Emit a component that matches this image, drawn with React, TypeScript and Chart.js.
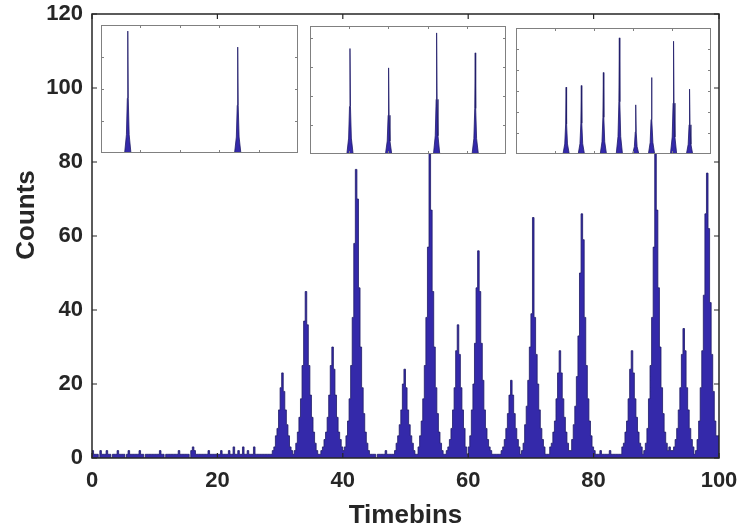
import React, { useEffect, useRef } from "react";
import { Chart, registerables } from "chart.js";

Chart.register(...registerables);

// ---------- main histogram data (bin width 0.25 timebins) ----------
const binWidth = 0.25;
const counts00to10 = [1,2,1,1,1,0,2,1,1,1, 2,1,1,0,1,1,1,2,1,1, 1,1,0,1,2,1,1,1,1,1, 1,2,1,1,0,1,1,1,1,1];
const counts10to20 = [1,1,1,1,2,1,1,0,1,1, 1,1,1,1,1,1,2,1,1,1, 1,1,1,0,2,3,2,1,1,1, 1,1,1,1,1,2,1,1,1,1];
const counts20to30 = [1,1,1,2,1,1,1,1,2,1, 1,3,1,1,2,1,1,3,1,1, 2,1,1,1,3,1,1,1,1,1, 1,1,1,1,1,1,2,3,6,8];
const counts30to40 = [13,19,23,18,13,9,6,3,2,1, 2,4,7,11,16,25,37,45,36,25, 17,11,7,4,2,1,1,2,3,5, 7,11,17,25,30,24,17,11,7,5];
const counts40to50 = [3,2,3,6,10,16,25,38,58,78, 70,46,30,19,12,7,4,2,1,1, 1,1,0,1,1,1,1,1,2,1, 1,1,1,1,2,4,6,9,13,20];
const counts50to60 = [24,19,13,9,6,4,2,1,1,3, 6,10,16,25,38,57,88,67,45,30, 19,12,7,4,2,1,1,2,3,5, 8,13,19,29,36,28,19,13,8,3];
const counts60to70 = [1,3,6,13,20,31,46,56,45,31, 21,13,8,5,3,2,1,1,1,1, 1,1,2,3,5,8,12,17,21,17, 12,8,5,3,1,2,4,9,14,21];
const counts70to80 = [30,39,65,38,28,20,13,8,5,3, 1,1,1,3,4,7,10,16,23,29, 23,16,11,7,4,2,2,5,9,14, 22,33,50,66,59,38,25,16,10,6];
const counts80to90 = [3,2,1,1,1,2,1,1,1,1, 1,2,1,1,1,1,1,1,1,3, 4,7,10,16,24,29,23,16,11,7, 4,3,1,2,4,8,16,25,38,57];
const counts90to100 = [88,67,46,30,19,12,7,4,2,3, 2,2,3,5,8,13,19,28,35,29, 19,13,8,5,3,1,2,5,10,19, 29,44,66,77,62,42,28,18,10,6];

const xTicks = [0, 20, 40, 60, 80, 100];
const yTicks = [0, 20, 40, 60, 80, 100, 120];
const xTitle = "Timebins";
const yTitle = "Counts";

// ---------- inset data ----------
const inset1X = [0, 0.60,0.645,0.668,0.68,0.692,0.715,0.76, 3.39,3.435,3.458,3.47,3.482,3.505,3.55, 5];
const inset1Y = [0, 0,0.57,1.71,3.81,1.71,0.57,0, 0,0.50,1.49,3.31,1.49,0.50,0, 0];
const inset1YMax = 4;
const inset1YTicks = [1, 2, 3];

const inset2X = [0, 0.94,0.985,1.008,1.02,1.032,1.055,1.10, 1.925,1.97,1.993,2.005,2.017,2.04,2.085,
  3.15,3.195,3.218,3.23,3.242,3.265,3.31, 4.135,4.18,4.203,4.215,4.227,4.25,4.295, 5];
const inset2Y = [0, 0,0.55,1.64,3.65,1.64,0.55,0, 0,0.45,1.34,2.98,1.34,0.45,0,
  0,0.63,1.89,4.19,1.89,0.63,0, 0,0.53,1.58,3.50,1.58,0.53,0, 0];
const inset2YMax = 4.43;
const inset2YTicks = [1, 2, 3, 4];

const inset3X = [0, 1.205,1.25,1.273,1.285,1.297,1.32,1.365, 1.595,1.64,1.663,1.675,1.687,1.71,1.755,
  2.16,2.205,2.228,2.24,2.252,2.275,2.32, 2.57,2.615,2.638,2.65,2.662,2.685,2.73,
  2.99,3.035,3.058,3.07,3.082,3.105,3.15, 3.395,3.44,3.463,3.475,3.487,3.51,3.555,
  3.96,4.005,4.028,4.04,4.052,4.075,4.12, 4.37,4.415,4.438,4.45,4.462,4.485,4.53, 5];
const inset3Y = [0, 0,0.48,1.43,3.18,1.43,0.48,0, 0,0.49,1.47,3.26,1.47,0.49,0,
  0,0.58,1.75,3.88,1.75,0.58,0, 0,0.83,2.49,5.53,2.49,0.83,0,
  0,0.35,1.05,2.34,1.05,0.35,0, 0,0.55,1.64,3.64,1.64,0.55,0,
  0,0.81,2.42,5.37,2.42,0.81,0, 0,0.46,1.39,3.09,1.39,0.46,0, 0];
const inset3YMax = 6;
const inset3YTicks = [1, 2, 3, 4, 5];
const insetXTicks = [1, 2, 3, 4];

const FILL = "#3429aa";
const EDGE = "#201c68";
const AXIS = "#262626";
const FONT = "'Liberation Sans', Arial, Helvetica, sans-serif";

const counts = [
  ...counts00to10, ...counts10to20, ...counts20to30, ...counts30to40, ...counts40to50,
  ...counts50to60, ...counts60to70, ...counts70to80, ...counts80to90, ...counts90to100,
];

const mainBoxPlugin = {
  id: "mainBox",
  afterDraw(chart: any) {
    const { ctx, chartArea: a, scales } = chart;
    ctx.save();
    ctx.strokeStyle = AXIS;
    ctx.lineWidth = 1.5;
    ctx.strokeRect(a.left, a.top, a.right - a.left, a.bottom - a.top);
    ctx.lineWidth = 1.2;
    const tl = 5;
    ctx.beginPath();
    for (const v of xTicks) {
      const px = scales.x.getPixelForValue(v);
      ctx.moveTo(px, a.bottom); ctx.lineTo(px, a.bottom - tl);
      ctx.moveTo(px, a.top); ctx.lineTo(px, a.top + tl);
    }
    for (const v of yTicks) {
      const py = scales.y.getPixelForValue(v);
      ctx.moveTo(a.left, py); ctx.lineTo(a.left + tl, py);
      ctx.moveTo(a.right, py); ctx.lineTo(a.right - tl, py);
    }
    ctx.stroke();
    ctx.fillStyle = AXIS;
    ctx.font = `bold 26px ${FONT}`;
    ctx.textAlign = "center";
    ctx.textBaseline = "middle";
    ctx.fillText(xTitle, (a.left + a.right) / 2, a.bottom + 58);
    ctx.translate(27, (a.top + a.bottom) / 2 - 21);
    ctx.rotate(-Math.PI / 2);
    ctx.fillText(yTitle, 0, 0);
    ctx.restore();
  },
};

function makeInsetPlugin(yTicksArr: number[]) {
  return {
    id: "insetBox",
    beforeDraw(chart: any) {
      const { ctx, width, height } = chart;
      ctx.save();
      ctx.fillStyle = "#ffffff";
      ctx.fillRect(0, 0, width, height);
      ctx.restore();
    },
    afterDraw(chart: any) {
      const { ctx, chartArea: a, scales } = chart;
      ctx.save();
      ctx.strokeStyle = "#808080";
      ctx.lineWidth = 1;
      ctx.strokeRect(a.left + 0.5, a.top + 0.5, a.right - a.left - 1, a.bottom - a.top - 1);
      ctx.beginPath();
      const tl = 3;
      for (const v of insetXTicks) {
        const px = Math.round(scales.x.getPixelForValue(v)) + 0.5;
        ctx.moveTo(px, a.bottom); ctx.lineTo(px, a.bottom - tl);
        ctx.moveTo(px, a.top); ctx.lineTo(px, a.top + tl);
      }
      for (const v of yTicksArr) {
        const py = Math.round(scales.y.getPixelForValue(v)) + 0.5;
        ctx.moveTo(a.left, py); ctx.lineTo(a.left + tl, py);
        ctx.moveTo(a.right, py); ctx.lineTo(a.right - tl, py);
      }
      ctx.stroke();
      ctx.restore();
    },
  };
}

function Inset(props: { xs: number[]; ys: number[]; yMax: number; yTicks: number[]; left: number; top: number; w: number; h: number }) {
  const ref = useRef<HTMLCanvasElement | null>(null);
  useEffect(() => {
    if (!ref.current) return;
    const pts = props.xs.map((x, i) => ({ x, y: props.ys[i] }));
    const chart = new Chart(ref.current, {
      type: "line",
      data: {
        datasets: [{
          data: pts,
          fill: "origin",
          backgroundColor: FILL,
          borderColor: EDGE,
          borderWidth: 0.8,
          pointRadius: 0,
          tension: 0,
        }],
      },
      options: {
        responsive: false,
        animation: false,
        layout: { padding: 0 },
        plugins: { legend: { display: false }, tooltip: { enabled: false } },
        scales: {
          x: { type: "linear", min: 0, max: 5, display: false },
          y: { type: "linear", min: 0, max: props.yMax, display: false },
        },
      },
      plugins: [makeInsetPlugin(props.yTicks)],
    } as any);
    return () => chart.destroy();
  }, []);
  return (
    <canvas
      ref={ref}
      width={props.w}
      height={props.h}
      style={{ position: "absolute", left: props.left, top: props.top, width: props.w, height: props.h }}
    />
  );
}

export default function App() {
  const ref = useRef<HTMLCanvasElement | null>(null);
  useEffect(() => {
    if (!ref.current) return;
    const pts = counts.map((c, i) => ({ x: i * binWidth, y: c }));
    pts.push({ x: 100, y: counts[counts.length - 1] });
    const chart = new Chart(ref.current, {
      type: "line",
      data: {
        datasets: [{
          data: pts,
          stepped: "after",
          fill: "origin",
          backgroundColor: FILL,
          borderColor: EDGE,
          borderWidth: 0.8,
          pointRadius: 0,
        }],
      },
      options: {
        responsive: false,
        animation: false,
        layout: { padding: { left: 0, top: 14, right: 23, bottom: 0 } },
        plugins: { legend: { display: false }, tooltip: { enabled: false } },
        scales: {
          x: {
            type: "linear",
            min: 0,
            max: 100,
            afterBuildTicks: (s: any) => { s.ticks = xTicks.map((v) => ({ value: v })); },
            afterFit: (s: any) => { s.height = 73; s.paddingLeft = 0; s.paddingRight = 0; },
            grid: { display: false, drawTicks: false },
            border: { display: false },
            ticks: { color: AXIS, font: { family: FONT, size: 22, weight: "bold" }, padding: 10, maxRotation: 0 },
          },
          y: {
            type: "linear",
            min: 0,
            max: 120,
            afterBuildTicks: (s: any) => { s.ticks = yTicks.map((v) => ({ value: v })); },
            afterFit: (s: any) => { s.width = 92; s.paddingTop = 0; s.paddingBottom = 0; },
            grid: { display: false, drawTicks: false },
            border: { display: false },
            ticks: { color: AXIS, font: { family: FONT, size: 22, weight: "bold" }, padding: 9 },
          },
        },
      },
      plugins: [mainBoxPlugin],
    } as any);
    return () => chart.destroy();
  }, []);
  return (
    <div style={{ position: "absolute", left: 0, top: 0, width: 742, height: 531, background: "#fff" }}>
      <canvas ref={ref} width={742} height={531} style={{ position: "absolute", left: 0, top: 0, width: 742, height: 531 }} />
      <Inset xs={inset1X} ys={inset1Y} yMax={inset1YMax} yTicks={inset1YTicks} left={101} top={25} w={197} h={128} />
      <Inset xs={inset2X} ys={inset2Y} yMax={inset2YMax} yTicks={inset2YTicks} left={310} top={26} w={196} h={128} />
      <Inset xs={inset3X} ys={inset3Y} yMax={inset3YMax} yTicks={inset3YTicks} left={516} top={28} w={195} h={126} />
    </div>
  );
}
